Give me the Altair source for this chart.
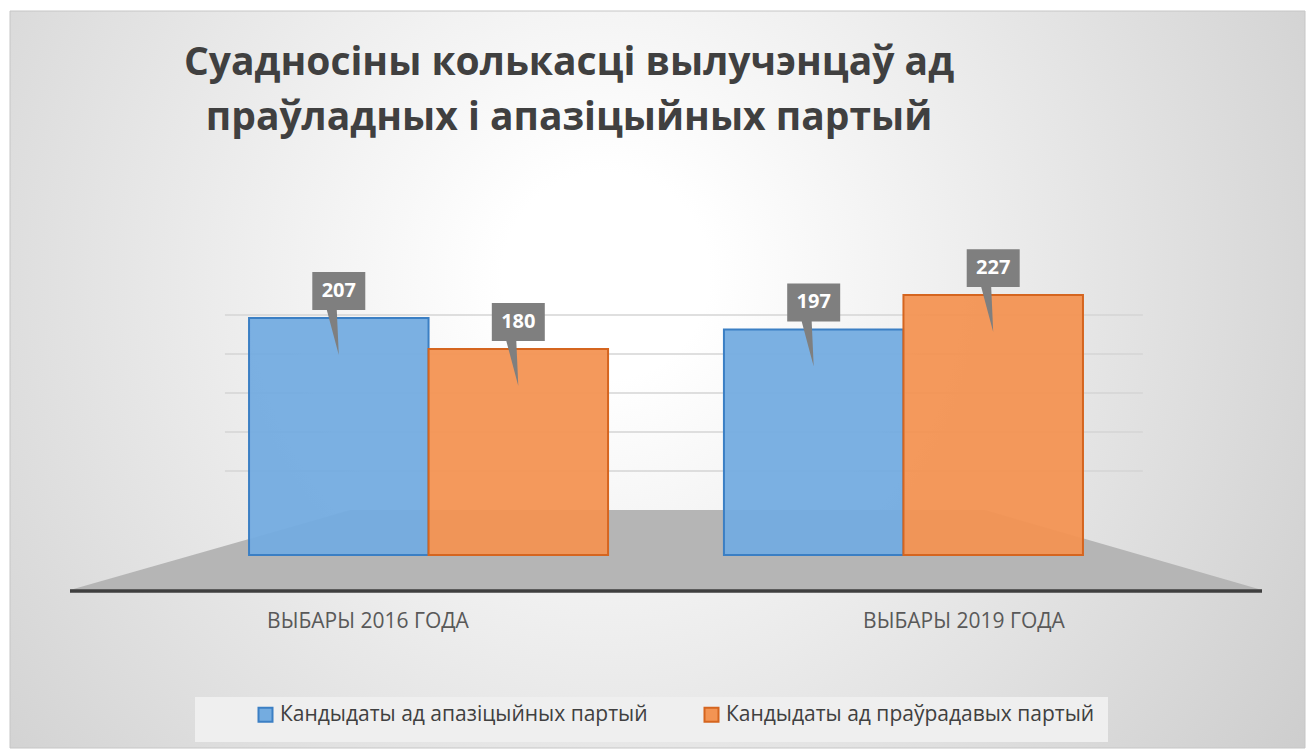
import altair as alt
import pandas as pd

# ---- data ----
title_lines = ["Суадносіны колькасці вылучэнцаў ад", "праўладных і апазіцыйных партый"]
groups = ["ВЫБАРЫ 2016 ГОДА", "ВЫБАРЫ 2019 ГОДА"]
series = ["Кандыдаты ад апазіцыйных партый", "Кандыдаты ад праўрадавых партый"]
opposition = [207, 197]
progov = [180, 227]
grid_values = [50, 100, 150, 200, 250]

# ---- styles / geometry ----
colors_fill = ["#74ace0", "#f39453"]
colors_stroke = ["#3b7fc4", "#d5651f"]
FONT = "Open Sans"
W, H = 1192, 355
YDOM = [-30.5, 279.5]
BACK_YDOM = [-102.6, 352.6]
floor_x = [0.0, 0.235, 0.768, 1.0]
floor_top = [-30.5, 39.3, 39.3, -30.5]
floor_base = -30.5
CALLOUT = ("M-0.883,-1.533 L0.883,-1.533 L0.883,-0.267 L-0.067,-0.267 "
           "L0,1.233 L-0.4,-0.267 L-0.883,-0.267 Z")

rows = []
for g, a, b in zip(groups, opposition, progov):
    rows.append({"group": g, "series": series[0], "value": a})
    rows.append({"group": g, "series": series[1], "value": b})
df = pd.DataFrame(rows)
one = pd.DataFrame({"k": [0]})

bg = alt.Chart(one).mark_rect(
    fill={"gradient": "radial", "x1": 0.46, "y1": 0.42, "x2": 0.46, "y2": 0.42,
          "r1": 0.08, "r2": 0.68,
          "stops": [{"offset": 0, "color": "#ffffff"},
                    {"offset": 1, "color": "#cbcbcb"}]},
    stroke="#c6c6c6", strokeWidth=1,
).encode(x=alt.value(-60), x2=alt.value(1235), y=alt.value(-224), y2=alt.value(513))

legend_box = alt.Chart(one).mark_rect(fill="#efefef").encode(
    x=alt.value(125), x2=alt.value(1038), y=alt.value(462), y2=alt.value(507))

grid_df = pd.DataFrame({"v": grid_values})
grid = alt.Chart(grid_df).mark_rule(color="#d4d4d4", strokeWidth=1.5).encode(
    x=alt.value(0.13 * W), x2=alt.value(0.9 * W),
    y=alt.Y("v:Q", scale=alt.Scale(domain=BACK_YDOM, nice=False, zero=False), axis=None))

floor_df = pd.DataFrame({"fx": floor_x, "ftop": floor_top, "fbase": [floor_base] * len(floor_x)})
floor = alt.Chart(floor_df).mark_area(color="#b5b5b5", interpolate="linear").encode(
    x=alt.X("fx:Q", scale=alt.Scale(domain=[0, 1], nice=False, zero=False), axis=None),
    y=alt.Y("ftop:Q", scale=alt.Scale(domain=YDOM, nice=False, zero=False), axis=None),
    y2="fbase:Q")

baseline_rule = alt.Chart(one).mark_rule(color="#3f3f3f", strokeWidth=3.5).encode(
    x=alt.value(0), x2=alt.value(W), y=alt.value(H + 1))

leg = dict(title=None, orient="none", legendX=185, legendY=469, direction="horizontal",
           labelFont=FONT, labelFontSize=21, labelColor="#404040", symbolType="square",
           symbolSize=196, symbolStrokeWidth=2, columnPadding=52, labelOffset=4,
           labelLimit=0)

base = alt.Chart(df).encode(
    x=alt.X("group:N", sort=groups, scale=alt.Scale(paddingInner=0.244, paddingOuter=0.377), axis=None),
    xOffset=alt.XOffset("series:N", sort=series, scale=alt.Scale(paddingInner=0, paddingOuter=0)),
    y=alt.Y("value:Q", scale=alt.Scale(domain=YDOM, nice=False, zero=False), axis=None),
)
bars = base.mark_bar(strokeWidth=2, fillOpacity=0.95).encode(
    y2=alt.datum(0),
    fill=alt.Fill("series:N", sort=series, scale=alt.Scale(domain=series, range=colors_fill),
                  legend=alt.Legend(**leg)),
    stroke=alt.Stroke("series:N", sort=series, scale=alt.Scale(domain=series, range=colors_stroke),
                      legend=alt.Legend(**leg)),
)
callouts = base.mark_point(shape=CALLOUT, size=3600, filled=True, fill="#7f7f7f",
                           opacity=1, strokeWidth=0)
values = base.mark_text(dy=-27, fontSize=20, fontWeight="bold", font=FONT, color="white",
                        baseline="middle", align="center").encode(text="value:Q")
inner = alt.layer(bars, callouts, values)

cat_labels = alt.Chart(pd.DataFrame({"group": groups})).mark_text(
    font=FONT, fontSize=21, color="#595959", baseline="middle", align="center"
).encode(
    x=alt.X("group:N", sort=groups, scale=alt.Scale(paddingInner=0, paddingOuter=0), axis=None),
    y=alt.value(H + 32),
    text="group:N")

title = alt.Chart(one).mark_text(
    text=title_lines, font=FONT, fontSize=39, fontWeight="bold", color="#404040",
    align="center", baseline="alphabetic", lineHeight=55,
).encode(x=alt.value(499), y=alt.value(-160))

chart = alt.layer(bg, legend_box, grid, floor, inner, baseline_rule, cat_labels, title).resolve_scale(
    x="independent", y="independent"
).properties(
    width=W, height=H,
    padding={"left": 70, "top": 235, "right": 49, "bottom": 162},
    autosize=alt.AutoSizeParams(type="none"),
).configure_view(stroke=None).configure(background="white")

chart.save("out.html", embed_options={"renderer": "svg", "actions": False})
